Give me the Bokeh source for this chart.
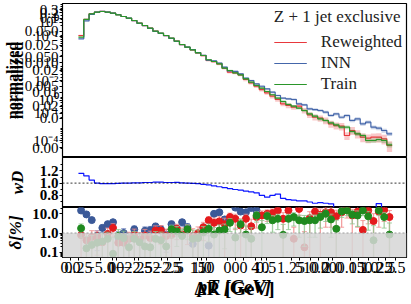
import numpy as np
from bokeh.plotting import figure
from bokeh.layouts import column
from bokeh.models import (FixedTicker, Span, Legend, LegendItem, Range1d,
                          BoxAnnotation, LinearAxis, LogAxis)
from bokeh.embed import file_html
from bokeh.resources import INLINE

# ---------------- data ----------------
edges = list(range(3, 63))            # 59 bins of p_T
centers = [e + 0.5 for e in edges[:-1]]

train = [0.00805, 0.0303, 0.0463, 0.0522, 0.0550, 0.0522, 0.0484, 0.0430, 0.0378, 0.0333,
         0.0281, 0.0229, 0.0193, 0.0158, 0.0126, 0.0109, 0.00914, 0.00747, 0.00597, 0.00467,
         0.00381, 0.00314, 0.00251, 0.00205, 0.00149, 0.00131, 0.00110, 0.000793, 0.000668, 0.000562,
         0.000484, 0.000359, 0.000279, 0.000218, 0.000178, 0.000139, 0.000109, 8.42e-5, 6.58e-5, 5.26e-5,
         4.63e-5, 3.99e-5, 3.36e-5, 2.62e-5, 2.19e-5, 1.80e-5, 1.59e-5, 1.34e-5, 1.15e-5, 9.64e-6,
         9.64e-6, 6.98e-6, 5.88e-6, 5.18e-6, 3.56e-6, 3.56e-6, 3.84e-6, 3.56e-6, 2.58e-6]
reweighted = [0.00914, 0.0305, 0.0465, 0.0524, 0.0551, 0.0523, 0.0485, 0.0431, 0.0379, 0.0332,
              0.0280, 0.0229, 0.0192, 0.0158, 0.0127, 0.0108, 0.00910, 0.00745, 0.00598, 0.00465,
              0.00380, 0.00312, 0.00250, 0.00203, 0.00141, 0.00130, 0.00109, 0.000790, 0.000588, 0.000560,
              0.000484, 0.000341, 0.000266, 0.000206, 0.000161, 0.000126, 9.77e-5, 7.64e-5, 5.55e-5, 4.88e-5,
              4.30e-5, 4.63e-5, 3.36e-5, 2.43e-5, 2.03e-5, 1.89e-5, 1.59e-5, 1.24e-5, 1.09e-5, 1.04e-5,
              5.18e-6, 7.53e-6, 5.88e-6, 4.56e-6, 4.24e-6, 4.56e-6, 4.56e-6, 4.05e-6, 2.45e-6]
inn = [0.00714, 0.0271, 0.0441, 0.0522, 0.0556, 0.0527, 0.0489, 0.0432, 0.0378, 0.0333,
       0.0280, 0.0228, 0.0191, 0.0156, 0.0124, 0.0107, 0.00905, 0.00740, 0.00590, 0.00465,
       0.00381, 0.00316, 0.00254, 0.00209, 0.00145, 0.00137, 0.00117, 0.000857, 0.000646, 0.000628,
       0.000522, 0.000376, 0.000316, 0.000247, 0.000206, 0.000170, 0.000132, 0.000103, 8.42e-5, 8.05e-5,
       7.64e-5, 5.55e-5, 5.14e-5, 3.81e-5, 3.61e-5, 3.36e-5, 2.96e-5, 2.31e-5, 2.62e-5, 2.03e-5,
       2.31e-5, 1.59e-5, 1.80e-5, 1.24e-5, 1.40e-5, 9.64e-6, 8.93e-6, 7.53e-6, 5.88e-6]

# relative uncertainties (bands)
train_unc = [0.03, 0.02, 0.02, 0.02, 0.02, 0.02, 0.02, 0.02, 0.02, 0.02,
             0.02, 0.02, 0.02, 0.02, 0.02, 0.03, 0.03, 0.03, 0.03, 0.03,
             0.03, 0.03, 0.04, 0.04, 0.04, 0.04, 0.05, 0.05, 0.05, 0.06,
             0.06, 0.06, 0.07, 0.07, 0.07, 0.08, 0.08, 0.08, 0.09, 0.09,
             0.10, 0.10, 0.10, 0.11, 0.11, 0.12, 0.12, 0.12, 0.13, 0.13,
             0.14, 0.14, 0.15, 0.15, 0.16, 0.16, 0.16, 0.17, 0.18]
rew_unc = [0.05, 0.03, 0.03, 0.03, 0.03, 0.03, 0.03, 0.03, 0.03, 0.03,
           0.03, 0.03, 0.03, 0.04, 0.04, 0.04, 0.04, 0.05, 0.05, 0.05,
           0.06, 0.06, 0.07, 0.07, 0.08, 0.08, 0.09, 0.09, 0.10, 0.10,
           0.11, 0.12, 0.12, 0.13, 0.14, 0.14, 0.15, 0.16, 0.17, 0.18,
           0.18, 0.19, 0.20, 0.21, 0.22, 0.23, 0.24, 0.25, 0.26, 0.27,
           0.28, 0.29, 0.30, 0.31, 0.32, 0.33, 0.34, 0.35, 0.38]
inn_unc = [0.02, 0.02, 0.02, 0.02, 0.02, 0.02, 0.02, 0.02, 0.02, 0.02,
           0.02, 0.02, 0.02, 0.02, 0.02, 0.02, 0.02, 0.03, 0.03, 0.03,
           0.03, 0.03, 0.03, 0.04, 0.04, 0.04, 0.04, 0.05, 0.05, 0.05,
           0.05, 0.06, 0.06, 0.06, 0.07, 0.07, 0.07, 0.08, 0.08, 0.08,
           0.09, 0.09, 0.09, 0.10, 0.10, 0.10, 0.11, 0.11, 0.11, 0.12,
           0.12, 0.12, 0.13, 0.13, 0.13, 0.14, 0.14, 0.15, 0.15]

# weight ratio panel
w_d = [1.16, 1.12, 1.05, 1.00, 0.99, 0.99, 0.99, 0.995, 1.0, 1.0,
       1.005, 1.005, 1.01, 1.01, 1.015, 1.015, 1.01, 1.01, 1.012, 1.005,
       1.0, 0.995, 0.99, 0.98, 0.97, 0.955, 0.94, 0.925, 0.91, 0.895,
       0.885, 0.87, 0.855, 0.84, 0.80, 0.77, 0.80, 0.82, 0.75, 0.73,
       0.72, 0.71, 0.71, 0.69, 0.67, 0.68, 0.67, 0.66, 0.55, 0.52,
       0.50, 0.50, 0.50, 0.50, 0.50, 0.50, 0.665, 0.50, 0.50]

# relative deviation panel [%]
delta_inn = [14.9, 9.3, 4.7, 0.72, 1.85, 2.9, 3.65, 0.6, 1.0, 0.5,
             1.55, 0.42, 1.3, 1.4, 2.2, 1.55, 0.8, 2.9, 1.65, 3.65,
             2.0, 0.27, 0.55, 1.8, 0.22, 10, 12, 5.1, 4.6, 21,
             13, 12, 20, 15, 40, 40, 40, 40, 40, 40,
             40, 40, 40, 40, 40, 40, 40, 40, 40, 40,
             40, 40, 40, 40, 40, 40, 40, 40, 40]
err_inn = [2.0, 1.5, 1.0, 0.6, 0.8, 1.0, 1.2, 0.6, 0.7, 0.5,
           0.8, 0.5, 0.8, 0.8, 1.0, 0.9, 0.7, 1.2, 1.0, 1.4,
           1.1, 0.5, 0.6, 1.1, 0.5, 2.5, 3.0, 2.0, 2.0, 4.0,
           3.0, 3.0, 4.0, 4.0, 5, 5, 5, 5, 5, 5,
           5, 5, 5, 5, 5, 5, 5, 5, 5, 5,
           5, 5, 5, 5, 5, 5, 5, 5, 5]
delta_rew = [0.78, 0.42, 0.62, 0.67, 0.33, 0.9, 1.85, 0.31, 0.31, 0.5,
             0.8, 0.45, 0.74, 0.55, 1.35, 1.35, 0.7, 0.8, 1.65, 0.83,
             1.45, 0.67, 0.98, 2.0, 4.6, 3.4, 4.0, 2.9, 6.8, 5.5,
             2.45, 5.5, 2.25, 6.8, 8.2, 10, 11, 15, 5.5, 15,
             0.5, 18, 0.18, 5.9, 13, 9, 12, 12, 7.4, 12,
             17, 8.2, 13, 1.45, 15, 4.2, 13, 16, 6.8]
err_rew = [0.9, 0.5, 0.7, 0.6, 0.5, 0.9, 1.2, 0.5, 0.4, 0.6,
           0.8, 0.6, 0.8, 0.7, 1.0, 1.1, 0.9, 0.9, 1.2, 1.0,
           1.2, 1.0, 1.1, 1.6, 2.5, 2.5, 3.0, 3.0, 4.0, 4.0,
           3.0, 4.0, 3.0, 5.0, 6.0, 6.0, 7.0, 8.0, 6.0, 9.0,
           1.5, 10, 1.0, 7.0, 9.0, 9.0, 10, 10, 8.0, 10,
           11, 9.0, 11, 3.0, 12, 6.0, 11, 12, 8.0]
delta_train = [1.75, 0.16, 0.24, 0.31, 0.36, 0.5, 0.083, 0.7, 0.55, 0.18,
               0.5, 0.33, 0.2, 0.18, 0.5, 0.42, 0.2, 1.55, 1.2, 0.7,
               1.55, 0.5, 0.55, 1.1, 1.65, 0.83, 1.35, 1.55, 3.4, 0.58,
               2.9, 0.83, 0.5, 8.2, 2.0, 7.6, 4.6, 5.5, 0.8, 5.5,
               6.8, 4.6, 4.2, 4.6, 4.6, 6.8, 10, 5.1, 1.65, 13.5,
               15, 9, 8.2, 15, 7.4, 0.42, 15, 6.8, 0.83]
err_train = [1.2, 0.5, 0.5, 0.6, 0.6, 0.6, 0.5, 0.8, 0.7, 0.6,
             0.7, 0.6, 0.6, 0.6, 0.7, 0.7, 0.6, 1.0, 1.0, 0.9,
             1.1, 0.9, 0.9, 1.1, 1.3, 1.1, 1.3, 1.4, 2.2, 1.2,
             2.2, 1.5, 1.4, 4.5, 2.5, 4.5, 3.5, 4.0, 2.0, 4.0,
             4.5, 4.0, 4.0, 4.0, 4.0, 5.0, 6.0, 4.5, 3.0, 7.0,
             7.0, 6.0, 6.0, 7.0, 6.0, 2.0, 7.0, 5.0, 2.5]

# tick labels (overlapping axes of the original figure)
top_tick_vals = [0.0638, 0.0510, 0.0326, 0.0242, 0.01233, 0.00849, 0.00433, 0.0019, 0.00121,
                 0.000668, 0.000316, 0.000202, 0.000129, 7.1e-5, 4.53e-5, 2.69e-5, 1.85e-5,
                 3.56e-6, 2.11e-6]
top_tick_labels = ["0.3", "0.2", "0.1", "10⁰", "0.050", "10⁻¹", "0.025", "0.050", "0.010",
                   "0.02", "10⁻²", "0.005", "0.01", "10⁰", "0.02", "10⁻¹", "0.0",
                   "10⁻⁴", "0.00"]
x_tick_vals = [1.50, 2.99, 7.10, 9.35, 10.09, 13.46, 14.21, 18.69, 19.81, 22.06, 25.42,
               26.17, 27.10, 31.03, 32.52, 34.02, 36.26, 37.38, 38.32, 42.99, 44.49,
               46.73, 48.22, 50.09, 50.84, 54.21, 55.70, 57.57, 59.44, 60.75, 62.62]
x_tick_labels = ["0.0", "0.25", "−5.0", "0", "10", "−2.25", "−2.5", "−2.25", "−2.5", "5", "15",
                 "1.0", "10", "0", "0", "0", "4", "10", "0.5", "1.25", "5",
                 "10", "0.0", "20", "2.0", "0.15", "0.1", "1.0", "0.25", "2.5", "2.5"]

# ---------------- styling ----------------
FONT = "Liberation Serif"
RED, BLUE, GREEN = "#e8383d", "#4466aa", "#2a962a"
PT_RED, PT_BLUE, PT_GREEN = "#e41a1c", "#3b5998", "#1f8a1f"

xr = Range1d(0, 64.7)
common = dict(width=410, output_backend="svg", toolbar_location=None, x_range=xr,
              min_border_left=60, min_border_right=4, background_fill_color="white",
              border_fill_color="white")


def black_axis(ax):
    ax.major_label_text_color = "black"
    ax.axis_label_text_color = "black"
    ax.axis_line_color = "black"
    ax.major_tick_line_color = "black"
    ax.minor_tick_line_color = "black"
    ax.major_label_text_font = FONT
    ax.axis_label_text_font = FONT


def style(p):
    p.grid.visible = False
    p.outline_line_color = "black"
    p.outline_line_width = 1.2
    for ax in p.yaxis:
        black_axis(ax)
        ax.major_tick_out = 3
        ax.major_tick_in = 0
        ax.minor_tick_out = 2
        ax.minor_tick_in = 0
        ax.major_label_standoff = 1
        ax.axis_label_standoff = 2


# ---------------- top panel ----------------
p1 = figure(height=157, y_axis_type="log", y_range=Range1d(1e-6, 0.1),
            x_axis_location=None, min_border_top=3, min_border_bottom=0, **common)
style(p1)

renderers = {}
for name, vals, unc, col in [("Reweighted", reweighted, rew_unc, RED),
                             ("INN", inn, inn_unc, BLUE),
                             ("Train", train, train_unc, GREEN)]:
    v = np.array(vals + [vals[-1]])
    u = np.array(unc + [unc[-1]])
    p1.varea_step(x=edges, y1=v * (1 - u), y2=v * (1 + u), step_mode="after",
                  fill_color=col, fill_alpha=0.28)
    renderers[name] = p1.step(x=edges, y=v, mode="after", line_color=col, line_width=1.2)

minor_log = [m * 10.0 ** e for e in range(-7, 0) for m in range(2, 10)]
p1.yaxis.ticker = FixedTicker(ticks=top_tick_vals, minor_ticks=minor_log)
p1.yaxis.major_label_overrides = dict(zip(top_tick_vals, top_tick_labels))
p1.yaxis.major_label_text_font_size = "15px"
p1.yaxis.axis_label = "normalized"
p1.yaxis.axis_label_text_font_size = "16px"
p1.yaxis.axis_label_text_font_style = "bold"
p1.yaxis.axis_label_standoff = -4

# second, slightly shifted copy of the y label (overlapping axes in the original)
ax2 = LogAxis(ticker=FixedTicker(ticks=[]), axis_label="normalized",
              axis_line_color=None, major_tick_line_color=None, minor_tick_line_color=None,
              axis_label_text_font=FONT, axis_label_text_font_size="16px",
              axis_label_text_color="black",
              axis_label_text_font_style="bold", axis_label_standoff=-15)
p1.add_layout(ax2, "left")

legend = Legend(items=[LegendItem(label=k, renderers=[renderers[k]]) for k in ["Reweighted", "INN", "Train"]],
                location="top_right", title="Z + 1 jet exclusive")
legend.border_line_color = None
legend.background_fill_alpha = 0
legend.label_text_font = FONT
legend.label_text_font_size = "17px"
legend.label_text_color = "#222222"
legend.title_text_font = FONT
legend.title_text_font_size = "17px"
legend.title_text_font_style = "normal"
legend.title_text_color = "#222222"
legend.glyph_width = 33
legend.glyph_height = 20
legend.label_height = 20
legend.label_standoff = 14
legend.spacing = 1
legend.padding = 3
legend.margin = 4
legend.title_standoff = 5
p1.add_layout(legend)

# ---------------- middle panel ----------------
p2 = figure(height=50, y_range=Range1d(0.6, 1.42), x_axis_location=None,
            min_border_top=0, min_border_bottom=0, **common)
style(p2)
p2.add_layout(Span(location=1.0, dimension="width", line_color="black",
                   line_dash="2 2", line_width=0.8))
p2.step(x=edges, y=w_d + [w_d[-1]], mode="after", line_color="#0a14ff", line_width=1.2)
p2.yaxis.ticker = FixedTicker(ticks=[0.8, 1.0, 1.2], minor_ticks=[0.7, 0.9, 1.1, 1.3])
p2.yaxis.major_label_overrides = {0.8: "0.8", 1.0: "1.0", 1.2: "1.2"}
p2.yaxis.major_label_text_font_size = "15px"
p2.yaxis.major_label_text_font_style = "bold"
p2.yaxis.axis_label = "wD"
p2.yaxis.axis_label_text_font_size = "17px"
p2.yaxis.axis_label_text_font_style = "bold italic"
p2.yaxis.axis_label_standoff = 10

# ---------------- bottom panel ----------------
YLO, YHI = 0.053, 21.3
p3 = figure(height=96, y_axis_type="log", y_range=Range1d(YLO, YHI),
            min_border_top=0, min_border_bottom=46, **common)
style(p3)
p3.add_layout(BoxAnnotation(top=1.0, fill_color="#d6d6d6", fill_alpha=0.85, line_color=None))
p3.add_layout(Span(location=1.0, dimension="width", line_color="#9a9a9a",
                   line_dash="2 2", line_width=1))

for d, e, pc, ec in [(delta_inn, err_inn, PT_BLUE, "#7d8fc4"),
                     (delta_rew, err_rew, PT_RED, "#f08a8a"),
                     (delta_train, err_train, PT_GREEN, "#8cc48c")]:
    d = np.array(d)
    e = np.array(e)
    lo = np.where(d - e > 0.02, d - e, 0.02)
    hi = d + e
    c = np.array(centers)
    p3.segment(x0=c, y0=lo, x1=c, y1=hi, line_color=ec, line_width=1.3, line_alpha=0.8)
    p3.scatter(x=c, y=hi, marker="dash", size=5, line_color=ec, line_alpha=0.8)
    p3.scatter(x=c, y=lo, marker="dash", size=5, line_color=ec, line_alpha=0.8)
    p3.scatter(x=c, y=d, marker="circle", size=7, fill_color=pc, line_color=pc)

p3.yaxis.ticker = FixedTicker(ticks=[0.1, 1.0, 10.0], minor_ticks=minor_log + [20.0])
p3.yaxis.major_label_overrides = {0.1: "0.1", 1.0: "1.0", 10.0: "10.0"}
p3.yaxis.major_label_text_font_size = "15px"
p3.yaxis.major_label_text_font_style = "bold"
p3.yaxis.axis_label = "δ[%]"
p3.yaxis.axis_label_text_font_size = "17px"
p3.yaxis.axis_label_text_font_style = "bold italic"
p3.yaxis.axis_label_standoff = 4

xa = p3.xaxis[0]
black_axis(xa)
xa.ticker = FixedTicker(ticks=x_tick_vals)
xa.major_label_overrides = dict(zip(x_tick_vals, x_tick_labels))
xa.major_label_text_font_size = "16px"
xa.major_tick_out = 3
xa.major_tick_in = 0
xa.major_label_standoff = 1
xa.axis_label = "pT [GeV]"
xa.axis_label_text_font_size = "19px"
xa.axis_label_text_font_style = "bold italic"
xa.axis_label_standoff = 0

xa2 = LinearAxis(ticker=FixedTicker(ticks=[]), axis_label="ΔR [GeV]",
                 axis_line_color=None, major_tick_line_color=None, minor_tick_line_color=None,
                 axis_label_text_font=FONT, axis_label_text_font_size="19px",
                 axis_label_text_color="black",
                 axis_label_text_font_style="bold", axis_label_standoff=-22)
p3.add_layout(xa2, "below")

layout = column(p1, p2, p3, spacing=0)
open("out.html", "w").write(file_html(layout, INLINE))
